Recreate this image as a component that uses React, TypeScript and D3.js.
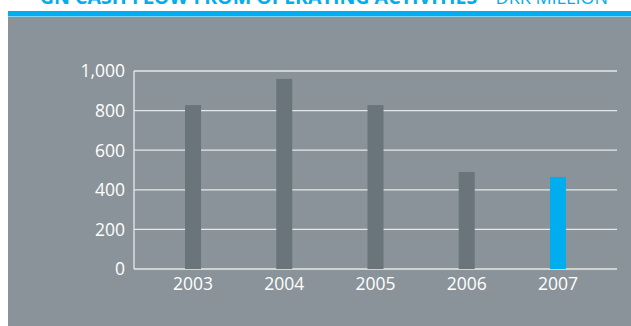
import React from "react";
import * as d3 from "d3";

const years = ["2003", "2004", "2005", "2006", "2007"];
const values = [828, 960, 828, 490, 465];
const yTicks = [0, 200, 400, 600, 800, 1000];
const titleBold = "GN CASH FLOW FROM OPERATING ACTIVITIES";
const titleLight = " – DKK MILLION";

export default function App() {
  const W = 631, H = 326;
  const x0 = 134, x1 = 617, yTop = 71, yBot = 269;
  const x = d3.scalePoint<string>().domain(years).range([x0, x1]).padding(0.647);
  const y = d3.scaleLinear().domain([0, 1000]).range([yBot, yTop]);
  const fmt = d3.format(",");
  const barW = 16;
  const font = "'Open Sans', 'Noto Sans', sans-serif";
  return (
    <svg width={W} height={H} style={{ position: "absolute", left: 0, top: 0 }}>
      <rect x={0} y={0} width={W} height={H} fill="#ffffff" />
      <rect x={8} y={11} width={W - 8} height={5.5} fill="#00AEEF" />
      <rect x={8} y={17} width={W - 8} height={H - 17} fill="#899399" />
      <text x={608} y={4} textAnchor="end" fill="#00AEEF" fontFamily={font} fontSize={19.6}>
        <tspan fontWeight={700}>{titleBold}</tspan>
        <tspan fontWeight={400} fontSize={18}>{titleLight}</tspan>
      </text>
      {yTicks.map((t) => (
        <g key={t}>
          <line x1={x0} x2={x1} y1={y(t)} y2={y(t)} stroke="#E6E8E9" strokeWidth={1.3} />
          <text x={125} y={y(t)} dy="0.36em" textAnchor="end" fill="#ffffff" fontFamily={font} fontSize={17.5}>
            {fmt(t)}
          </text>
        </g>
      ))}
      <line x1={x0} x2={x0} y1={yTop} y2={yBot} stroke="#E6E8E9" strokeWidth={1.3} />
      {years.map((yr, i) => (
        <g key={yr}>
          <rect
            x={(x(yr) as number) - barW / 2}
            y={y(values[i])}
            width={barW}
            height={yBot - y(values[i])}
            fill={i === years.length - 1 ? "#00AEEF" : "#6A757B"}
          />
          <text x={x(yr)} y={290} textAnchor="middle" fill="#ffffff" fontFamily={font} fontSize={17.5}>
            {yr}
          </text>
        </g>
      ))}
    </svg>
  );
}
